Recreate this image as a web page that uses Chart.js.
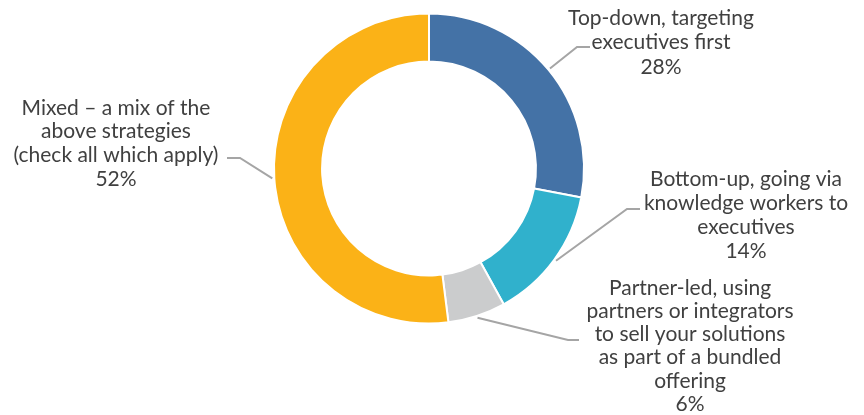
<!DOCTYPE html>
<html>
<head>
<meta charset="utf-8">
<script src="https://cdn.jsdelivr.net/npm/chart.js@4/dist/chart.umd.min.js"></script>
<style>
  html, body { margin: 0; padding: 0; background: #fff; }
  #wrap { width: 864px; height: 415px; }
</style>
</head>
<body>
<div id="wrap"><canvas id="strategyChart" width="864" height="415"></canvas></div>
<script>
const categories = [
    ["Top-down, targeting", "executives first"],
    ["Bottom-up, going via", "knowledge workers to", "executives"],
    ["Partner-led, using", "partners or integrators", "to sell your solutions", "as part of a bundled", "offering"],
    ["Mixed \u2013 a mix of the", "above strategies", "(check all which apply)"]
];
const shares = [28, 14, 6, 52];
const sliceColors = ["#4472a6", "#30b1cc", "#cbcccd", "#fbb217"];

// label block centre, first-line y, and leader elbow / end for each slice
const labelLayout = [
    { x: 661, y: 18, gap: 24.5, elbow: [577, 47], end: [590, 47] },
    { x: 746, y: 179, gap: 24, elbow: [627, 209], end: [640, 209] },
    { x: 690, y: 288, gap: 23.2, elbow: [568, 340], end: [579, 340] },
    { x: 116, y: 108, gap: 23.7, elbow: [240, 158], end: [227, 158] }
];

const labelFont = "21px Lato, 'Open Sans', sans-serif";

const calloutPlugin = {
    id: "callouts",
    afterDatasetsDraw(chart) {
        const ctx = chart.ctx;
        const meta = chart.getDatasetMeta(0);
        ctx.save();
        meta.data.forEach((arc, i) => {
            const mid = (arc.startAngle + arc.endAngle) / 2;
            const r = arc.outerRadius + 2;
            const sx = arc.x + Math.cos(mid) * r;
            const sy = arc.y + Math.sin(mid) * r;
            const lay = labelLayout[i];

            ctx.strokeStyle = "#a5a5a5";
            ctx.lineWidth = 2;
            ctx.beginPath();
            ctx.moveTo(sx, sy);
            ctx.lineTo(lay.elbow[0], lay.elbow[1]);
            ctx.lineTo(lay.end[0], lay.end[1]);
            ctx.stroke();

            ctx.fillStyle = "#404040";
            ctx.font = labelFont;
            ctx.textAlign = "center";
            ctx.textBaseline = "middle";
            const lines = categories[i].concat([shares[i] + "%"]);
            lines.forEach((txt, k) => {
                ctx.fillText(txt, lay.x, lay.y + k * lay.gap);
            });
        });
        ctx.restore();
    }
};

new Chart(document.getElementById("strategyChart"), {
    type: "doughnut",
    data: {
        labels: categories.map(c => c.join(" ")),
        datasets: [{
            data: shares,
            backgroundColor: sliceColors,
            borderColor: "#ffffff",
            borderWidth: 2
        }]
    },
    options: {
        responsive: false,
        animation: false,
        cutout: "69%",
        layout: { padding: { left: 273, right: 279, top: 12, bottom: 90 } },
        plugins: {
            legend: { display: false },
            tooltip: { enabled: false }
        }
    },
    plugins: [calloutPlugin]
});
</script>
</body>
</html>
